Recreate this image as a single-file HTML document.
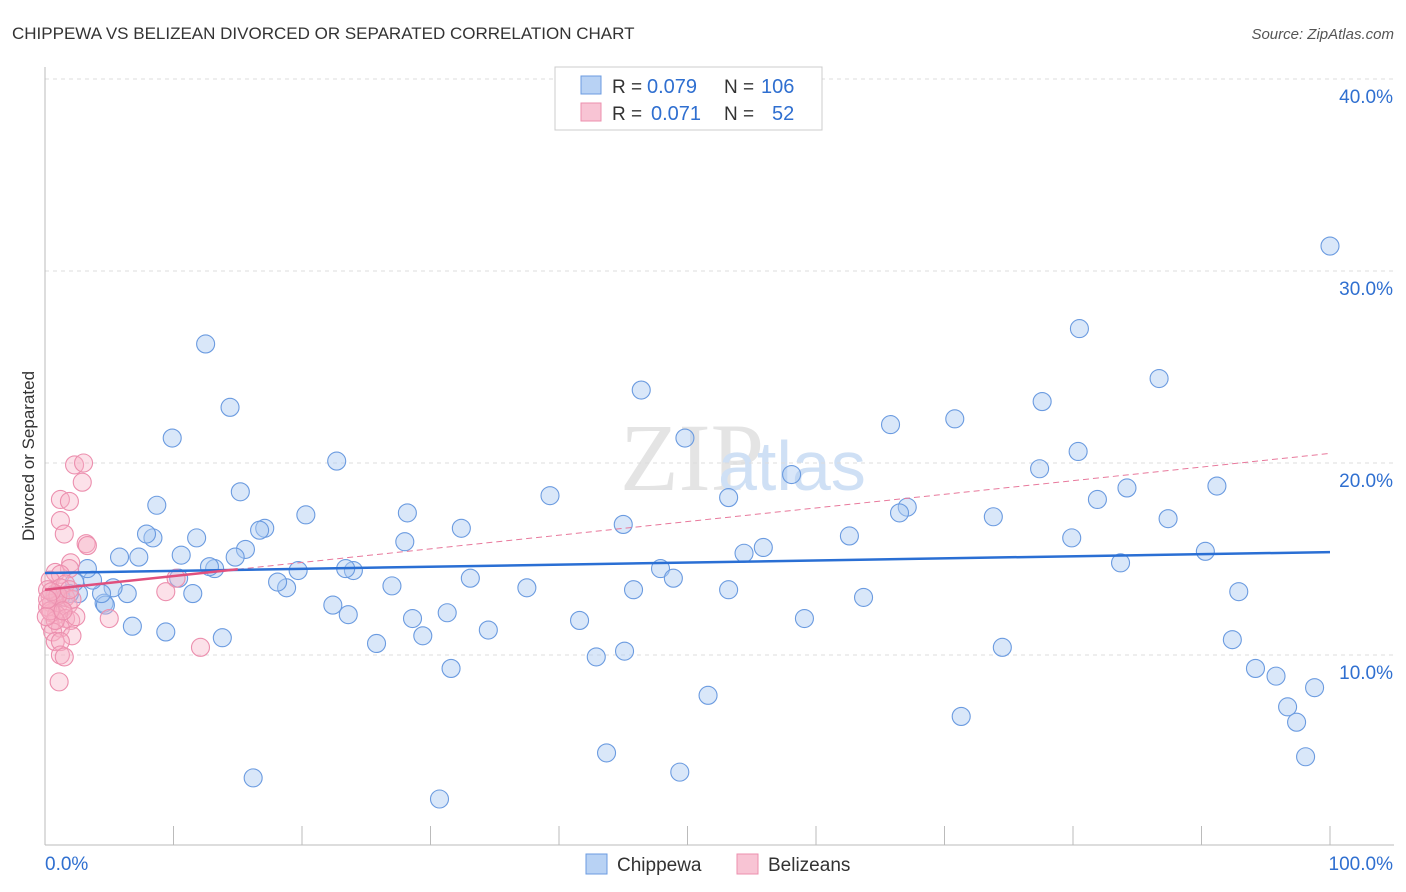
<!DOCTYPE html>
<html><head><meta charset="utf-8">
<style>
body{margin:0;background:#fff;font-family:"Liberation Sans",sans-serif;}
svg{display:block}
</style></head>
<body>
<svg id="chart" width="1406" height="892">
<text x="12" y="39" font-size="17" fill="#333">CHIPPEWA VS BELIZEAN DIVORCED OR SEPARATED CORRELATION CHART</text>
<text x="1394" y="39" font-size="15" fill="#555" text-anchor="end" font-style="italic">Source: ZipAtlas.com</text>
<text x="620" y="490" font-size="96" fill="#e4e4e4" font-family="Liberation Serif">ZIP</text>
<text x="718" y="490" font-size="70" fill="#cfe0f5">atlas</text>
<g id="grid"></g>
<g id="axes"></g>
<g id="marks"></g>
<text transform="translate(34,456) rotate(-90)" font-size="17" fill="#333" text-anchor="middle">Divorced or Separated</text>
<g>
<rect x="555" y="67" width="267" height="63" fill="#fff" stroke="#ccc"/>
<rect x="581" y="76" width="20" height="18" fill="#b8d2f4" stroke="#6b9be0"/>
<rect x="581" y="103" width="20" height="18" fill="#f8c4d4" stroke="#ec8fae"/>
<text x="612" y="93" font-size="19" fill="#333">R =</text>
<text x="647" y="93" font-size="20" fill="#2f6fd0">0.079</text>
<text x="724" y="93" font-size="19" fill="#333">N =</text>
<text x="761" y="93" font-size="20" fill="#2f6fd0">106</text>
<text x="612" y="120" font-size="19" fill="#333">R =</text>
<text x="651" y="120" font-size="20" fill="#2f6fd0">0.071</text>
<text x="724" y="120" font-size="19" fill="#333">N =</text>
<text x="772" y="120" font-size="20" fill="#2f6fd0">52</text>
</g>
<g>
<rect x="586" y="854" width="21" height="20" fill="#b8d2f4" stroke="#6b9be0"/>
<text x="617" y="871" font-size="19" fill="#333">Chippewa</text>
<rect x="737" y="854" width="21" height="20" fill="#f8c4d4" stroke="#ec8fae"/>
<text x="768" y="871" font-size="19" fill="#333">Belizeans</text>
</g>
</svg>
<script>
const blueX=[100,80.5,86.7,77.6,70.8,65.8,80.4,77.4,84.2,81.9,91.2,67.1,66.5,73.8,87.4,79.9,90.3,83.7,92.9,92.4,74.5,94.2,95.8,98.8,96.7,97.4,98.1,71.3,62.6,63.7,59.1,58.1,55.9,54.4,53.2,53.2,51.6,49.4,49.8,46.4,47.9,48.9,45.8,45.0,45.1,42.9,43.7,41.6,39.3,37.5,34.5,33.1,32.4,31.3,31.6,30.7,29.4,28.6,28.2,28.0,27.0,25.8,24.0,23.4,23.6,22.4,22.7,20.3,19.7,18.8,18.1,17.1,16.7,15.6,15.2,14.8,14.4,13.8,13.2,12.8,12.5,11.8,11.5,10.6,10.4,9.9,8.7,8.4,7.9,7.3,5.8,9.4,6.8,6.4,5.3,4.6,4.7,4.4,3.7,3.3,2.6,2.3,1.9,1.2,16.2,0.8];
const blueY=[31.3,27.0,24.4,23.2,22.3,22.0,20.6,19.7,18.7,18.1,18.8,17.7,17.4,17.2,17.1,16.1,15.4,14.8,13.3,10.8,10.4,9.3,8.9,8.3,7.3,6.5,4.7,6.8,16.2,13.0,11.9,19.4,15.6,15.3,18.2,13.4,7.9,3.9,21.3,23.8,14.5,14.0,13.4,16.8,10.2,9.9,4.9,11.8,18.3,13.5,11.3,14.0,16.6,12.2,9.3,2.5,11.0,11.9,17.4,15.9,13.6,10.6,14.4,14.5,12.1,12.6,20.1,17.3,14.4,13.5,13.8,16.6,16.5,15.5,18.5,15.1,22.9,10.9,14.5,14.6,26.2,16.1,13.2,15.2,14.0,21.3,17.8,16.1,16.3,15.1,15.1,11.2,11.5,13.2,13.5,12.7,12.6,13.2,13.9,14.5,13.2,13.8,13.2,13.0,3.6,13.1];
const pinkX=[2.3,3.0,2.9,1.2,1.9,1.2,1.5,3.2,3.3,2.0,1.9,0.8,1.2,10.2,0.4,1.6,9.4,0.8,0.4,0.5,1.0,1.3,1.8,0.5,0.9,1.6,2.0,2.4,5.0,0.4,1.2,0.6,2.1,0.8,1.2,1.2,1.5,12.1,1.1,1.2,0.2,0.8,0.2,1.6,2.1,0.4,1.0,0.1,1.9,0.5,1.4,0.2];
const pinkY=[19.9,20.0,19.0,18.1,18.0,17.0,16.3,15.8,15.7,14.8,14.5,14.3,14.2,14.0,13.9,13.7,13.3,13.2,13.0,12.7,12.6,12.4,12.6,12.2,12.1,11.9,11.8,12.0,11.9,11.6,11.4,11.2,11.0,10.7,10.7,10.0,9.9,10.4,8.6,13.5,12.5,11.8,13.4,13.0,12.9,12.3,13.1,12.0,13.4,13.3,12.3,12.9];
const blueTrend=[14.27,15.36];
const pinkTrend=[13.4,20.5];
const pinkSolidMax=15;
const yTicks=[10,20,30,40];
const xTickLabels=["0.0%","100.0%"];

const NS="http://www.w3.org/2000/svg";
const sx=v=>45+v*12.85, sy=v=>847-v*19.2;
function mk(tag,attrs,parent){const e=document.createElementNS(NS,tag);for(const k in attrs)e.setAttribute(k,attrs[k]);parent.appendChild(e);return e;}
const grid=document.getElementById('grid'),axes=document.getElementById('axes'),marks=document.getElementById('marks');
yTicks.forEach(t=>{
  const l=mk('line',{x1:45,x2:1394,y1:sy(t),y2:sy(t),stroke:'#ddd','stroke-dasharray':'4,4'},grid);
  
  
  const tx=mk('text',{x:1393,y:sy(t)+24,'font-size':19,fill:'#2f6fd0','text-anchor':'end'},axes);
  tx.textContent=t.toFixed(1)+'%';
  
  
});
let a=mk('line',{x1:45,x2:45,y1:67,y2:845,stroke:'#bbb'},axes);


a=mk('line',{x1:45,x2:1394,y1:845,y2:845,stroke:'#bbb'},axes);


for(let i=0;i<=10;i++){
  const t=mk('line',{x1:sx(i*10),x2:sx(i*10),y1:826,y2:845,stroke:'#bbb'},axes);
  
  
}
let xl=mk('text',{x:45,y:870,'font-size':19,fill:'#2f6fd0'},axes);xl.textContent=xTickLabels[0];


xl=mk('text',{x:1393,y:870,'font-size':19,fill:'#2f6fd0','text-anchor':'end'},axes);xl.textContent=xTickLabels[1];



blueX.forEach((x,i)=>{
  const c=mk('circle',{cx:sx(x),cy:sy(blueY[i]),r:9,fill:'rgba(170,202,242,0.45)',stroke:'#6b9be0','stroke-width':1.1},marks);
  
  
});
pinkX.forEach((x,i)=>{
  const c=mk('circle',{cx:sx(x),cy:sy(pinkY[i]),r:9,fill:'rgba(246,176,198,0.38)',stroke:'#ec8fae','stroke-width':1.1},marks);
  
  
});
const pAt=x=>pinkTrend[0]+(pinkTrend[1]-pinkTrend[0])*x/100;
let ln=mk('line',{x1:sx(pinkSolidMax),y1:sy(pAt(pinkSolidMax)),x2:sx(100),y2:sy(pinkTrend[1]),stroke:'#e8799c','stroke-width':1,'stroke-dasharray':'6,4'},marks);


ln=mk('line',{x1:sx(0),y1:sy(blueTrend[0]),x2:sx(100),y2:sy(blueTrend[1]),stroke:'#2a6fd4','stroke-width':2.5},marks);


ln=mk('line',{x1:sx(0),y1:sy(pinkTrend[0]),x2:sx(pinkSolidMax),y2:sy(pAt(pinkSolidMax)),stroke:'#e0507e','stroke-width':2.5},marks);


</script>
</body></html>
